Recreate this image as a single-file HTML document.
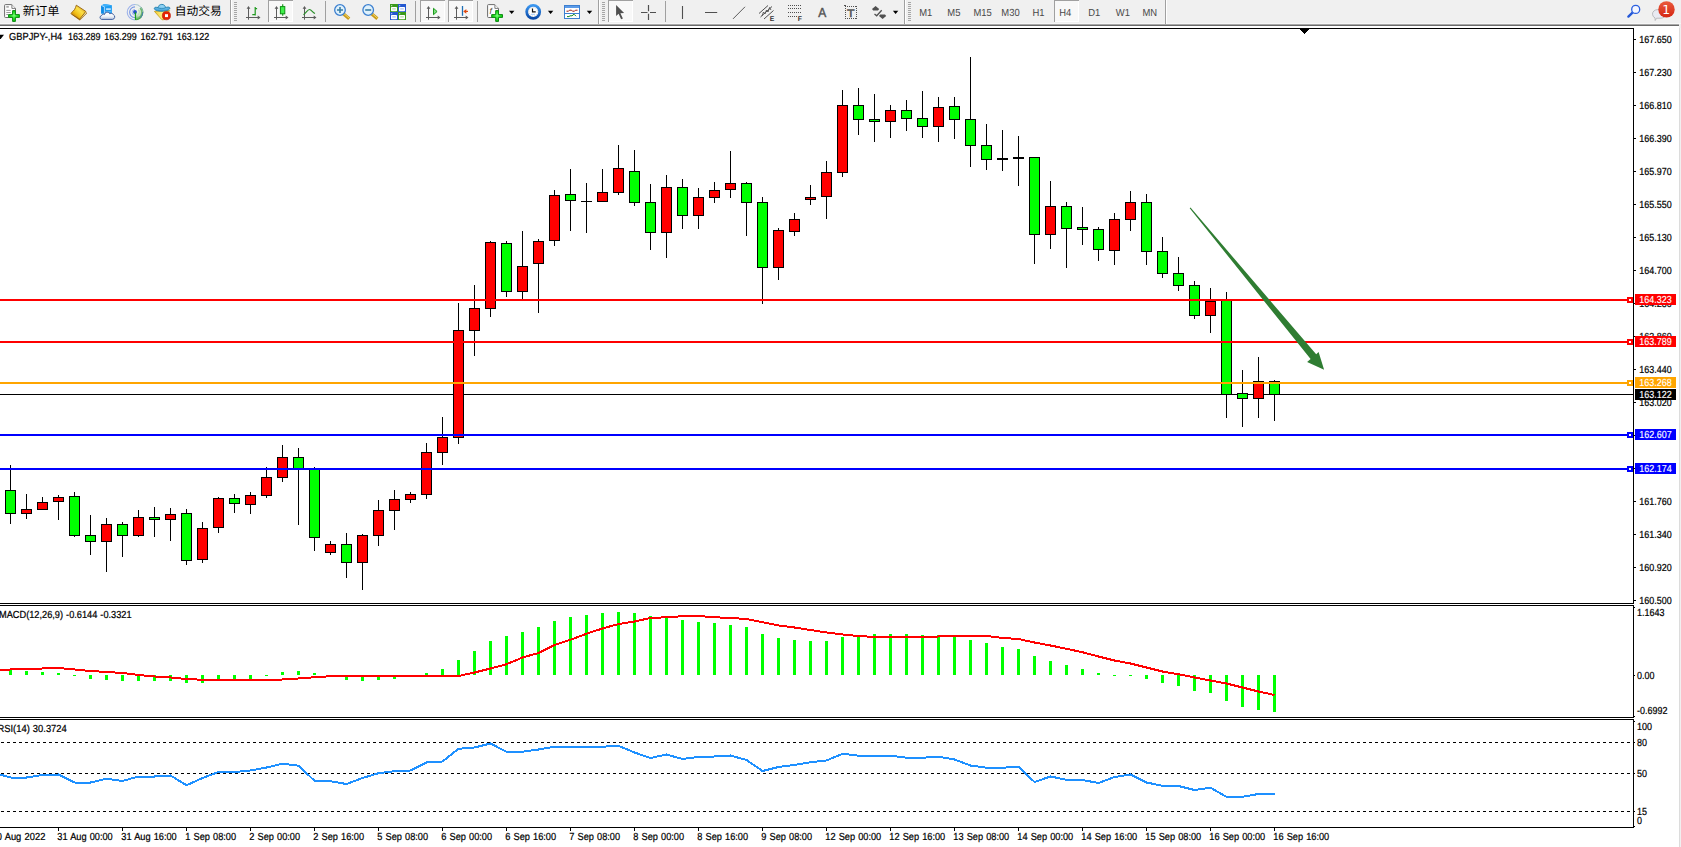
<!DOCTYPE html>
<html lang="zh"><head><meta charset="utf-8"><title>GBPJPY-,H4</title>
<style>html,body{margin:0;padding:0;background:#fff;overflow:hidden}body{width:1681px;height:847px;font-family:"Liberation Sans","Noto Sans CJK SC",sans-serif}svg{position:absolute;left:0;top:0;display:block}text{font-family:"Liberation Sans","Noto Sans CJK SC",sans-serif;text-rendering:geometricPrecision}.c{shape-rendering:crispEdges}.t9{font-size:10.2px;fill:#000;stroke:#000;stroke-width:.22px}</style></head><body>
<svg width="1681" height="847" viewBox="0 0 1681 847">
<rect width="1681" height="847" fill="#fff"/>
<g class="c">
<rect x="0" y="394" width="1633" height="1" fill="#000"/>
<rect x="10" y="465" width="1" height="59" fill="#000"/>
<rect x="5" y="490" width="11" height="24" fill="#000"/>
<rect x="6" y="491" width="9" height="22" fill="#00ff00"/>
<rect x="26" y="494" width="1" height="25" fill="#000"/>
<rect x="21" y="509" width="11" height="5" fill="#000"/>
<rect x="22" y="510" width="9" height="3" fill="#ff0000"/>
<rect x="42" y="497" width="1" height="13" fill="#000"/>
<rect x="37" y="502" width="11" height="8" fill="#000"/>
<rect x="38" y="503" width="9" height="6" fill="#ff0000"/>
<rect x="58" y="495" width="1" height="25" fill="#000"/>
<rect x="53" y="497" width="11" height="5" fill="#000"/>
<rect x="54" y="498" width="9" height="3" fill="#ff0000"/>
<rect x="74" y="492" width="1" height="45" fill="#000"/>
<rect x="69" y="496" width="11" height="40" fill="#000"/>
<rect x="70" y="497" width="9" height="38" fill="#00ff00"/>
<rect x="90" y="515" width="1" height="40" fill="#000"/>
<rect x="85" y="535" width="11" height="7" fill="#000"/>
<rect x="86" y="536" width="9" height="5" fill="#00ff00"/>
<rect x="106" y="518" width="1" height="54" fill="#000"/>
<rect x="101" y="524" width="11" height="18" fill="#000"/>
<rect x="102" y="525" width="9" height="16" fill="#ff0000"/>
<rect x="122" y="522" width="1" height="35" fill="#000"/>
<rect x="117" y="524" width="11" height="12" fill="#000"/>
<rect x="118" y="525" width="9" height="10" fill="#00ff00"/>
<rect x="138" y="510" width="1" height="27" fill="#000"/>
<rect x="133" y="517" width="11" height="19" fill="#000"/>
<rect x="134" y="518" width="9" height="17" fill="#ff0000"/>
<rect x="154" y="507" width="1" height="30" fill="#000"/>
<rect x="149" y="517" width="11" height="3" fill="#000"/>
<rect x="150" y="518" width="9" height="1" fill="#00ff00"/>
<rect x="170" y="508" width="1" height="33" fill="#000"/>
<rect x="165" y="514" width="11" height="6" fill="#000"/>
<rect x="166" y="515" width="9" height="4" fill="#ff0000"/>
<rect x="186" y="509" width="1" height="56" fill="#000"/>
<rect x="181" y="513" width="11" height="48" fill="#000"/>
<rect x="182" y="514" width="9" height="46" fill="#00ff00"/>
<rect x="202" y="522" width="1" height="41" fill="#000"/>
<rect x="197" y="528" width="11" height="32" fill="#000"/>
<rect x="198" y="529" width="9" height="30" fill="#ff0000"/>
<rect x="218" y="497" width="1" height="36" fill="#000"/>
<rect x="213" y="498" width="11" height="30" fill="#000"/>
<rect x="214" y="499" width="9" height="28" fill="#ff0000"/>
<rect x="234" y="494" width="1" height="19" fill="#000"/>
<rect x="229" y="498" width="11" height="6" fill="#000"/>
<rect x="230" y="499" width="9" height="4" fill="#00ff00"/>
<rect x="250" y="492" width="1" height="22" fill="#000"/>
<rect x="245" y="495" width="11" height="10" fill="#000"/>
<rect x="246" y="496" width="9" height="8" fill="#ff0000"/>
<rect x="266" y="467" width="1" height="31" fill="#000"/>
<rect x="261" y="477" width="11" height="19" fill="#000"/>
<rect x="262" y="478" width="9" height="17" fill="#ff0000"/>
<rect x="282" y="445" width="1" height="37" fill="#000"/>
<rect x="277" y="457" width="11" height="21" fill="#000"/>
<rect x="278" y="458" width="9" height="19" fill="#ff0000"/>
<rect x="298" y="448" width="1" height="77" fill="#000"/>
<rect x="293" y="457" width="11" height="12" fill="#000"/>
<rect x="294" y="458" width="9" height="10" fill="#00ff00"/>
<rect x="314" y="467" width="1" height="84" fill="#000"/>
<rect x="309" y="468" width="11" height="70" fill="#000"/>
<rect x="310" y="469" width="9" height="68" fill="#00ff00"/>
<rect x="330" y="541" width="1" height="14" fill="#000"/>
<rect x="325" y="544" width="11" height="9" fill="#000"/>
<rect x="326" y="545" width="9" height="7" fill="#ff0000"/>
<rect x="346" y="533" width="1" height="45" fill="#000"/>
<rect x="341" y="544" width="11" height="19" fill="#000"/>
<rect x="342" y="545" width="9" height="17" fill="#00ff00"/>
<rect x="362" y="534" width="1" height="56" fill="#000"/>
<rect x="357" y="535" width="11" height="28" fill="#000"/>
<rect x="358" y="536" width="9" height="26" fill="#ff0000"/>
<rect x="378" y="500" width="1" height="46" fill="#000"/>
<rect x="373" y="510" width="11" height="26" fill="#000"/>
<rect x="374" y="511" width="9" height="24" fill="#ff0000"/>
<rect x="394" y="490" width="1" height="40" fill="#000"/>
<rect x="389" y="499" width="11" height="12" fill="#000"/>
<rect x="390" y="500" width="9" height="10" fill="#ff0000"/>
<rect x="410" y="492" width="1" height="11" fill="#000"/>
<rect x="405" y="494" width="11" height="6" fill="#000"/>
<rect x="406" y="495" width="9" height="4" fill="#ff0000"/>
<rect x="426" y="443" width="1" height="56" fill="#000"/>
<rect x="421" y="452" width="11" height="43" fill="#000"/>
<rect x="422" y="453" width="9" height="41" fill="#ff0000"/>
<rect x="442" y="417" width="1" height="48" fill="#000"/>
<rect x="437" y="437" width="11" height="16" fill="#000"/>
<rect x="438" y="438" width="9" height="14" fill="#ff0000"/>
<rect x="458" y="303" width="1" height="141" fill="#000"/>
<rect x="453" y="330" width="11" height="108" fill="#000"/>
<rect x="454" y="331" width="9" height="106" fill="#ff0000"/>
<rect x="474" y="285" width="1" height="71" fill="#000"/>
<rect x="469" y="308" width="11" height="23" fill="#000"/>
<rect x="470" y="309" width="9" height="21" fill="#ff0000"/>
<rect x="490" y="241" width="1" height="76" fill="#000"/>
<rect x="485" y="242" width="11" height="67" fill="#000"/>
<rect x="486" y="243" width="9" height="65" fill="#ff0000"/>
<rect x="506" y="241" width="1" height="56" fill="#000"/>
<rect x="501" y="243" width="11" height="49" fill="#000"/>
<rect x="502" y="244" width="9" height="47" fill="#00ff00"/>
<rect x="522" y="231" width="1" height="68" fill="#000"/>
<rect x="517" y="266" width="11" height="26" fill="#000"/>
<rect x="518" y="267" width="9" height="24" fill="#ff0000"/>
<rect x="538" y="239" width="1" height="74" fill="#000"/>
<rect x="533" y="241" width="11" height="23" fill="#000"/>
<rect x="534" y="242" width="9" height="21" fill="#ff0000"/>
<rect x="554" y="190" width="1" height="56" fill="#000"/>
<rect x="549" y="195" width="11" height="46" fill="#000"/>
<rect x="550" y="196" width="9" height="44" fill="#ff0000"/>
<rect x="570" y="169" width="1" height="62" fill="#000"/>
<rect x="565" y="194" width="11" height="7" fill="#000"/>
<rect x="566" y="195" width="9" height="5" fill="#00ff00"/>
<rect x="586" y="183" width="1" height="50" fill="#000"/>
<rect x="581" y="201" width="11" height="1" fill="#000"/>
<rect x="602" y="169" width="1" height="33" fill="#000"/>
<rect x="597" y="192" width="11" height="10" fill="#000"/>
<rect x="598" y="193" width="9" height="8" fill="#ff0000"/>
<rect x="618" y="145" width="1" height="50" fill="#000"/>
<rect x="613" y="168" width="11" height="25" fill="#000"/>
<rect x="614" y="169" width="9" height="23" fill="#ff0000"/>
<rect x="634" y="150" width="1" height="56" fill="#000"/>
<rect x="629" y="171" width="11" height="32" fill="#000"/>
<rect x="630" y="172" width="9" height="30" fill="#00ff00"/>
<rect x="650" y="184" width="1" height="66" fill="#000"/>
<rect x="645" y="202" width="11" height="31" fill="#000"/>
<rect x="646" y="203" width="9" height="29" fill="#00ff00"/>
<rect x="666" y="175" width="1" height="83" fill="#000"/>
<rect x="661" y="187" width="11" height="46" fill="#000"/>
<rect x="662" y="188" width="9" height="44" fill="#ff0000"/>
<rect x="682" y="179" width="1" height="50" fill="#000"/>
<rect x="677" y="187" width="11" height="29" fill="#000"/>
<rect x="678" y="188" width="9" height="27" fill="#00ff00"/>
<rect x="698" y="188" width="1" height="41" fill="#000"/>
<rect x="693" y="197" width="11" height="19" fill="#000"/>
<rect x="694" y="198" width="9" height="17" fill="#ff0000"/>
<rect x="714" y="182" width="1" height="21" fill="#000"/>
<rect x="709" y="190" width="11" height="8" fill="#000"/>
<rect x="710" y="191" width="9" height="6" fill="#ff0000"/>
<rect x="730" y="151" width="1" height="47" fill="#000"/>
<rect x="725" y="183" width="11" height="7" fill="#000"/>
<rect x="726" y="184" width="9" height="5" fill="#ff0000"/>
<rect x="746" y="182" width="1" height="54" fill="#000"/>
<rect x="741" y="183" width="11" height="20" fill="#000"/>
<rect x="742" y="184" width="9" height="18" fill="#00ff00"/>
<rect x="762" y="197" width="1" height="107" fill="#000"/>
<rect x="757" y="202" width="11" height="66" fill="#000"/>
<rect x="758" y="203" width="9" height="64" fill="#00ff00"/>
<rect x="778" y="228" width="1" height="52" fill="#000"/>
<rect x="773" y="230" width="11" height="38" fill="#000"/>
<rect x="774" y="231" width="9" height="36" fill="#ff0000"/>
<rect x="794" y="213" width="1" height="23" fill="#000"/>
<rect x="789" y="219" width="11" height="13" fill="#000"/>
<rect x="790" y="220" width="9" height="11" fill="#ff0000"/>
<rect x="810" y="185" width="1" height="20" fill="#000"/>
<rect x="805" y="197" width="11" height="3" fill="#000"/>
<rect x="806" y="198" width="9" height="1" fill="#ff0000"/>
<rect x="826" y="161" width="1" height="58" fill="#000"/>
<rect x="821" y="172" width="11" height="25" fill="#000"/>
<rect x="822" y="173" width="9" height="23" fill="#ff0000"/>
<rect x="842" y="90" width="1" height="87" fill="#000"/>
<rect x="837" y="105" width="11" height="68" fill="#000"/>
<rect x="838" y="106" width="9" height="66" fill="#ff0000"/>
<rect x="858" y="88" width="1" height="47" fill="#000"/>
<rect x="853" y="105" width="11" height="15" fill="#000"/>
<rect x="854" y="106" width="9" height="13" fill="#00ff00"/>
<rect x="874" y="94" width="1" height="48" fill="#000"/>
<rect x="869" y="119" width="11" height="3" fill="#000"/>
<rect x="870" y="120" width="9" height="1" fill="#00ff00"/>
<rect x="890" y="105" width="1" height="33" fill="#000"/>
<rect x="885" y="110" width="11" height="12" fill="#000"/>
<rect x="886" y="111" width="9" height="10" fill="#ff0000"/>
<rect x="906" y="100" width="1" height="31" fill="#000"/>
<rect x="901" y="110" width="11" height="9" fill="#000"/>
<rect x="902" y="111" width="9" height="7" fill="#00ff00"/>
<rect x="922" y="91" width="1" height="47" fill="#000"/>
<rect x="917" y="118" width="11" height="9" fill="#000"/>
<rect x="918" y="119" width="9" height="7" fill="#00ff00"/>
<rect x="938" y="97" width="1" height="45" fill="#000"/>
<rect x="933" y="107" width="11" height="20" fill="#000"/>
<rect x="934" y="108" width="9" height="18" fill="#ff0000"/>
<rect x="954" y="97" width="1" height="42" fill="#000"/>
<rect x="949" y="106" width="11" height="14" fill="#000"/>
<rect x="950" y="107" width="9" height="12" fill="#00ff00"/>
<rect x="970" y="57" width="1" height="110" fill="#000"/>
<rect x="965" y="119" width="11" height="27" fill="#000"/>
<rect x="966" y="120" width="9" height="25" fill="#00ff00"/>
<rect x="986" y="124" width="1" height="46" fill="#000"/>
<rect x="981" y="145" width="11" height="15" fill="#000"/>
<rect x="982" y="146" width="9" height="13" fill="#00ff00"/>
<rect x="1002" y="130" width="1" height="41" fill="#000"/>
<rect x="997" y="158" width="11" height="2" fill="#000"/>
<rect x="1018" y="136" width="1" height="50" fill="#000"/>
<rect x="1013" y="157" width="11" height="2" fill="#000"/>
<rect x="1034" y="157" width="1" height="107" fill="#000"/>
<rect x="1029" y="157" width="11" height="78" fill="#000"/>
<rect x="1030" y="158" width="9" height="76" fill="#00ff00"/>
<rect x="1050" y="181" width="1" height="68" fill="#000"/>
<rect x="1045" y="206" width="11" height="29" fill="#000"/>
<rect x="1046" y="207" width="9" height="27" fill="#ff0000"/>
<rect x="1066" y="202" width="1" height="66" fill="#000"/>
<rect x="1061" y="206" width="11" height="23" fill="#000"/>
<rect x="1062" y="207" width="9" height="21" fill="#00ff00"/>
<rect x="1082" y="207" width="1" height="38" fill="#000"/>
<rect x="1077" y="227" width="11" height="3" fill="#000"/>
<rect x="1078" y="228" width="9" height="1" fill="#00ff00"/>
<rect x="1098" y="227" width="1" height="34" fill="#000"/>
<rect x="1093" y="229" width="11" height="21" fill="#000"/>
<rect x="1094" y="230" width="9" height="19" fill="#00ff00"/>
<rect x="1114" y="213" width="1" height="52" fill="#000"/>
<rect x="1109" y="219" width="11" height="32" fill="#000"/>
<rect x="1110" y="220" width="9" height="30" fill="#ff0000"/>
<rect x="1130" y="191" width="1" height="40" fill="#000"/>
<rect x="1125" y="202" width="11" height="18" fill="#000"/>
<rect x="1126" y="203" width="9" height="16" fill="#ff0000"/>
<rect x="1146" y="194" width="1" height="71" fill="#000"/>
<rect x="1141" y="202" width="11" height="50" fill="#000"/>
<rect x="1142" y="203" width="9" height="48" fill="#00ff00"/>
<rect x="1162" y="237" width="1" height="41" fill="#000"/>
<rect x="1157" y="251" width="11" height="23" fill="#000"/>
<rect x="1158" y="252" width="9" height="21" fill="#00ff00"/>
<rect x="1178" y="257" width="1" height="34" fill="#000"/>
<rect x="1173" y="273" width="11" height="13" fill="#000"/>
<rect x="1174" y="274" width="9" height="11" fill="#00ff00"/>
<rect x="1194" y="281" width="1" height="38" fill="#000"/>
<rect x="1189" y="285" width="11" height="31" fill="#000"/>
<rect x="1190" y="286" width="9" height="29" fill="#00ff00"/>
<rect x="1210" y="288" width="1" height="45" fill="#000"/>
<rect x="1205" y="301" width="11" height="15" fill="#000"/>
<rect x="1206" y="302" width="9" height="13" fill="#ff0000"/>
<rect x="1226" y="292" width="1" height="126" fill="#000"/>
<rect x="1221" y="300" width="11" height="95" fill="#000"/>
<rect x="1222" y="301" width="9" height="93" fill="#00ff00"/>
<rect x="1242" y="370" width="1" height="57" fill="#000"/>
<rect x="1237" y="393" width="11" height="6" fill="#000"/>
<rect x="1238" y="394" width="9" height="4" fill="#00ff00"/>
<rect x="1258" y="357" width="1" height="61" fill="#000"/>
<rect x="1253" y="381" width="11" height="18" fill="#000"/>
<rect x="1254" y="382" width="9" height="16" fill="#ff0000"/>
<rect x="1274" y="380" width="1" height="41" fill="#000"/>
<rect x="1269" y="381" width="11" height="14" fill="#000"/>
<rect x="1270" y="382" width="9" height="12" fill="#00ff00"/>
<rect x="0" y="299" width="1633" height="2" fill="#ff0000"/>
<rect x="0" y="341" width="1633" height="2" fill="#ff0000"/>
<rect x="0" y="382" width="1633" height="2" fill="#ffa500"/>
<rect x="0" y="434" width="1633" height="2" fill="#0000ff"/>
<rect x="0" y="468" width="1633" height="2" fill="#0000ff"/>
</g>
<polygon points="1189.7,208.300 1190.500,207.600 1316.2,354.3 1318.6,352.1 1324.1,369.7 1307.1,362 1310.6,359.1" fill="#2f7d32"/>
<g class="c">
<rect x="9" y="670" width="3" height="5" fill="#00ff00"/>
<rect x="25" y="671" width="3" height="4" fill="#00ff00"/>
<rect x="41" y="672" width="3" height="3" fill="#00ff00"/>
<rect x="57" y="673" width="3" height="2" fill="#00ff00"/>
<rect x="73" y="675" width="3" height="1" fill="#00ff00"/>
<rect x="89" y="675" width="3" height="4" fill="#00ff00"/>
<rect x="105" y="675" width="3" height="5" fill="#00ff00"/>
<rect x="121" y="675" width="3" height="6" fill="#00ff00"/>
<rect x="137" y="675" width="3" height="6" fill="#00ff00"/>
<rect x="153" y="675" width="3" height="6" fill="#00ff00"/>
<rect x="169" y="675" width="3" height="6" fill="#00ff00"/>
<rect x="185" y="675" width="3" height="8" fill="#00ff00"/>
<rect x="201" y="675" width="3" height="8" fill="#00ff00"/>
<rect x="217" y="675" width="3" height="5" fill="#00ff00"/>
<rect x="233" y="675" width="3" height="5" fill="#00ff00"/>
<rect x="249" y="675" width="3" height="5" fill="#00ff00"/>
<rect x="265" y="675" width="3" height="1" fill="#00ff00"/>
<rect x="281" y="672" width="3" height="3" fill="#00ff00"/>
<rect x="297" y="671" width="3" height="4" fill="#00ff00"/>
<rect x="313" y="673" width="3" height="2" fill="#00ff00"/>
<rect x="329" y="675" width="3" height="1" fill="#00ff00"/>
<rect x="345" y="675" width="3" height="5" fill="#00ff00"/>
<rect x="361" y="675" width="3" height="6" fill="#00ff00"/>
<rect x="377" y="675" width="3" height="5" fill="#00ff00"/>
<rect x="393" y="675" width="3" height="4" fill="#00ff00"/>
<rect x="409" y="675" width="3" height="2" fill="#00ff00"/>
<rect x="425" y="673" width="3" height="2" fill="#00ff00"/>
<rect x="441" y="669" width="3" height="6" fill="#00ff00"/>
<rect x="457" y="660" width="3" height="15" fill="#00ff00"/>
<rect x="473" y="651" width="3" height="24" fill="#00ff00"/>
<rect x="489" y="641" width="3" height="34" fill="#00ff00"/>
<rect x="505" y="636" width="3" height="39" fill="#00ff00"/>
<rect x="521" y="632" width="3" height="43" fill="#00ff00"/>
<rect x="537" y="627" width="3" height="48" fill="#00ff00"/>
<rect x="553" y="621" width="3" height="54" fill="#00ff00"/>
<rect x="569" y="617" width="3" height="58" fill="#00ff00"/>
<rect x="585" y="615" width="3" height="60" fill="#00ff00"/>
<rect x="601" y="613" width="3" height="62" fill="#00ff00"/>
<rect x="617" y="612" width="3" height="63" fill="#00ff00"/>
<rect x="633" y="613" width="3" height="62" fill="#00ff00"/>
<rect x="649" y="616" width="3" height="59" fill="#00ff00"/>
<rect x="665" y="618" width="3" height="57" fill="#00ff00"/>
<rect x="681" y="620" width="3" height="55" fill="#00ff00"/>
<rect x="697" y="622" width="3" height="53" fill="#00ff00"/>
<rect x="713" y="623" width="3" height="52" fill="#00ff00"/>
<rect x="729" y="625" width="3" height="50" fill="#00ff00"/>
<rect x="745" y="627" width="3" height="48" fill="#00ff00"/>
<rect x="761" y="634" width="3" height="41" fill="#00ff00"/>
<rect x="777" y="638" width="3" height="37" fill="#00ff00"/>
<rect x="793" y="640" width="3" height="35" fill="#00ff00"/>
<rect x="809" y="641" width="3" height="34" fill="#00ff00"/>
<rect x="825" y="641" width="3" height="34" fill="#00ff00"/>
<rect x="841" y="637" width="3" height="38" fill="#00ff00"/>
<rect x="857" y="635" width="3" height="40" fill="#00ff00"/>
<rect x="873" y="634" width="3" height="41" fill="#00ff00"/>
<rect x="889" y="634" width="3" height="41" fill="#00ff00"/>
<rect x="905" y="634" width="3" height="41" fill="#00ff00"/>
<rect x="921" y="635" width="3" height="40" fill="#00ff00"/>
<rect x="937" y="635" width="3" height="40" fill="#00ff00"/>
<rect x="953" y="636" width="3" height="39" fill="#00ff00"/>
<rect x="969" y="640" width="3" height="35" fill="#00ff00"/>
<rect x="985" y="643" width="3" height="32" fill="#00ff00"/>
<rect x="1001" y="647" width="3" height="28" fill="#00ff00"/>
<rect x="1017" y="649" width="3" height="26" fill="#00ff00"/>
<rect x="1033" y="656" width="3" height="19" fill="#00ff00"/>
<rect x="1049" y="661" width="3" height="14" fill="#00ff00"/>
<rect x="1065" y="665" width="3" height="10" fill="#00ff00"/>
<rect x="1081" y="669" width="3" height="6" fill="#00ff00"/>
<rect x="1097" y="673" width="3" height="2" fill="#00ff00"/>
<rect x="1113" y="675" width="3" height="1" fill="#00ff00"/>
<rect x="1129" y="675" width="3" height="1" fill="#00ff00"/>
<rect x="1145" y="675" width="3" height="4" fill="#00ff00"/>
<rect x="1161" y="675" width="3" height="8" fill="#00ff00"/>
<rect x="1177" y="675" width="3" height="11" fill="#00ff00"/>
<rect x="1193" y="675" width="3" height="16" fill="#00ff00"/>
<rect x="1209" y="675" width="3" height="18" fill="#00ff00"/>
<rect x="1225" y="675" width="3" height="26" fill="#00ff00"/>
<rect x="1241" y="675" width="3" height="32" fill="#00ff00"/>
<rect x="1257" y="675" width="3" height="35" fill="#00ff00"/>
<rect x="1273" y="675" width="3" height="37" fill="#00ff00"/>
</g>
<polyline points="0,670 10.5,669.50 26.5,669.00 42.5,668.50 58.5,668.00 74.5,669.50 90.5,671.00 106.5,672.00 122.5,673.00 138.5,675.00 154.5,676.50 170.5,677.50 186.5,679.00 202.5,679.75 218.5,679.75 234.5,679.75 250.5,679.75 266.5,679.75 282.5,679.50 298.5,678.50 314.5,677.25 330.5,676.25 346.5,676.00 362.5,676.00 378.5,676.00 394.5,676.00 410.5,676.00 426.5,676.00 442.5,676.00 458.5,676.00 474.5,672.50 490.5,668.50 506.5,664.25 522.5,657.50 538.5,653.00 554.5,645.00 570.5,639.75 586.5,633.75 602.5,628.50 618.5,624.00 634.5,621.50 650.5,618.00 666.5,617.25 682.5,616.25 698.5,616.00 714.5,617.25 730.5,618.00 746.5,619.00 762.5,622.25 778.5,625.50 794.5,627.50 810.5,630.00 826.5,632.50 842.5,634.50 858.5,636.00 874.5,637.00 890.5,637.00 906.5,637.00 922.5,637.00 938.5,636.50 954.5,636.00 970.5,636.00 986.5,636.00 1002.5,638.00 1018.5,639.00 1034.5,642.50 1050.5,645.50 1066.5,648.75 1082.5,652.25 1098.5,656.50 1114.5,660.50 1130.5,663.50 1146.5,667.50 1162.5,671.50 1178.5,674.25 1194.5,677.50 1210.5,680.50 1226.5,683.50 1242.5,687.50 1258.5,691.50 1274.5,695.00" fill="none" stroke="#ff0000" stroke-width="2" stroke-linejoin="round" shape-rendering="crispEdges"/>
<g class="c">
<line x1="1" y1="742.5" x2="1631" y2="742.5" stroke="#000" stroke-width="1" stroke-dasharray="3 3"/>
<line x1="1" y1="773.5" x2="1631" y2="773.5" stroke="#000" stroke-width="1" stroke-dasharray="3 3"/>
<line x1="1" y1="811.5" x2="1631" y2="811.5" stroke="#000" stroke-width="1" stroke-dasharray="3 3"/>
</g>
<polyline points="0,774.5 10.5,777.50 26.5,777.50 42.5,775.00 58.5,774.50 74.5,782.50 90.5,782.50 106.5,778.75 122.5,781.00 138.5,776.50 154.5,776.50 170.5,775.50 186.5,785.25 202.5,778.00 218.5,772.00 234.5,772.00 250.5,770.50 266.5,767.50 282.5,763.75 298.5,765.75 314.5,780.75 330.5,781.25 346.5,784.00 362.5,778.00 378.5,773.25 394.5,771.25 410.5,770.50 426.5,762.50 442.5,761.50 458.5,748.75 474.5,747.50 490.5,743.50 506.5,751.75 522.5,751.75 538.5,749.50 554.5,746.75 570.5,746.75 586.5,746.75 602.5,746.75 618.5,745.75 634.5,752.50 650.5,758.00 666.5,754.50 682.5,759.00 698.5,757.00 714.5,756.50 730.5,755.50 746.5,760.00 762.5,771.00 778.5,767.00 794.5,765.00 810.5,762.25 826.5,760.50 842.5,753.75 858.5,755.75 874.5,755.75 890.5,755.75 906.5,757.75 922.5,757.75 938.5,756.75 954.5,759.50 970.5,765.50 986.5,767.75 1002.5,767.75 1018.5,766.75 1034.5,782.00 1050.5,776.50 1066.5,779.75 1082.5,780.00 1098.5,783.00 1114.5,777.00 1130.5,774.50 1146.5,782.50 1162.5,785.75 1178.5,786.00 1194.5,790.00 1210.5,787.70 1226.5,796.80 1242.5,796.80 1258.5,794.00 1274.5,794.00" fill="none" stroke="#1e90ff" stroke-width="2" stroke-linejoin="round" shape-rendering="crispEdges"/>
<g class="c">
<rect x="0" y="28" width="1634" height="1" fill="#000"/>
<rect x="0" y="603" width="1634" height="1" fill="#000"/>
<rect x="0" y="605" width="1634" height="1" fill="#000"/>
<rect x="0" y="717" width="1634" height="1" fill="#000"/>
<rect x="0" y="719" width="1634" height="1" fill="#000"/>
<rect x="0" y="827" width="1634" height="1" fill="#000"/>
<rect x="1633" y="28" width="1" height="576" fill="#000"/>
<rect x="1633" y="605" width="1" height="113" fill="#000"/>
<rect x="1633" y="719" width="1" height="109" fill="#000"/>
<rect x="1634" y="607" width="1" height="1" fill="#000"/>
<rect x="1634" y="675" width="1" height="1" fill="#000"/>
<rect x="1634" y="716" width="1" height="1" fill="#000"/>
<rect x="1634" y="721" width="1" height="1" fill="#000"/>
<rect x="1634" y="742" width="1" height="1" fill="#000"/>
<rect x="1634" y="773" width="1" height="1" fill="#000"/>
<rect x="1634" y="811" width="1" height="1" fill="#000"/>
<rect x="1634" y="826" width="1" height="1" fill="#000"/>
<rect x="1679" y="26" width="2" height="821" fill="#f0f0f0"/>
<rect x="1679" y="26" width="1" height="821" fill="#dcdcdc"/>
<rect x="1634" y="39" width="2" height="1" fill="#000"/>
<rect x="1634" y="72" width="2" height="1" fill="#000"/>
<rect x="1634" y="105" width="2" height="1" fill="#000"/>
<rect x="1634" y="138" width="2" height="1" fill="#000"/>
<rect x="1634" y="171" width="2" height="1" fill="#000"/>
<rect x="1634" y="204" width="2" height="1" fill="#000"/>
<rect x="1634" y="237" width="2" height="1" fill="#000"/>
<rect x="1634" y="270" width="2" height="1" fill="#000"/>
<rect x="1634" y="303" width="2" height="1" fill="#000"/>
<rect x="1634" y="336" width="2" height="1" fill="#000"/>
<rect x="1634" y="369" width="2" height="1" fill="#000"/>
<rect x="1634" y="402" width="2" height="1" fill="#000"/>
<rect x="1634" y="435" width="2" height="1" fill="#000"/>
<rect x="1634" y="468" width="2" height="1" fill="#000"/>
<rect x="1634" y="501" width="2" height="1" fill="#000"/>
<rect x="1634" y="534" width="2" height="1" fill="#000"/>
<rect x="1634" y="567" width="2" height="1" fill="#000"/>
<rect x="1634" y="600" width="2" height="1" fill="#000"/>
<rect x="58" y="828" width="1" height="3" fill="#000"/>
<rect x="122" y="828" width="1" height="3" fill="#000"/>
<rect x="186" y="828" width="1" height="3" fill="#000"/>
<rect x="250" y="828" width="1" height="3" fill="#000"/>
<rect x="314" y="828" width="1" height="3" fill="#000"/>
<rect x="378" y="828" width="1" height="3" fill="#000"/>
<rect x="442" y="828" width="1" height="3" fill="#000"/>
<rect x="506" y="828" width="1" height="3" fill="#000"/>
<rect x="570" y="828" width="1" height="3" fill="#000"/>
<rect x="634" y="828" width="1" height="3" fill="#000"/>
<rect x="698" y="828" width="1" height="3" fill="#000"/>
<rect x="762" y="828" width="1" height="3" fill="#000"/>
<rect x="826" y="828" width="1" height="3" fill="#000"/>
<rect x="890" y="828" width="1" height="3" fill="#000"/>
<rect x="954" y="828" width="1" height="3" fill="#000"/>
<rect x="1018" y="828" width="1" height="3" fill="#000"/>
<rect x="1082" y="828" width="1" height="3" fill="#000"/>
<rect x="1146" y="828" width="1" height="3" fill="#000"/>
<rect x="1210" y="828" width="1" height="3" fill="#000"/>
<rect x="1274" y="828" width="1" height="3" fill="#000"/>
<polygon points="1299,29 1309,29 1304,34" fill="#000"/>
</g><polygon points="0,34.800 4,34.800 0.700,39 0,39" fill="#000"/><g class="c">
</g>
<text class="t9" transform="translate(1639.3 43) scale(.879 1)">167.650</text>
<text class="t9" transform="translate(1639.3 76) scale(.879 1)">167.230</text>
<text class="t9" transform="translate(1639.3 109) scale(.879 1)">166.810</text>
<text class="t9" transform="translate(1639.3 142) scale(.879 1)">166.390</text>
<text class="t9" transform="translate(1639.3 175) scale(.879 1)">165.970</text>
<text class="t9" transform="translate(1639.3 208) scale(.879 1)">165.550</text>
<text class="t9" transform="translate(1639.3 241) scale(.879 1)">165.130</text>
<text class="t9" transform="translate(1639.3 274) scale(.879 1)">164.700</text>
<text class="t9" transform="translate(1639.3 307) scale(.879 1)">164.280</text>
<text class="t9" transform="translate(1639.3 340) scale(.879 1)">163.860</text>
<text class="t9" transform="translate(1639.3 373) scale(.879 1)">163.440</text>
<text class="t9" transform="translate(1639.3 406) scale(.879 1)">163.020</text>
<text class="t9" transform="translate(1639.3 439) scale(.879 1)">162.600</text>
<text class="t9" transform="translate(1639.3 472) scale(.879 1)">162.180</text>
<text class="t9" transform="translate(1639.3 505) scale(.879 1)">161.760</text>
<text class="t9" transform="translate(1639.3 538) scale(.879 1)">161.340</text>
<text class="t9" transform="translate(1639.3 571) scale(.879 1)">160.920</text>
<text class="t9" transform="translate(1639.3 604) scale(.879 1)">160.500</text>
<g class="c">
<rect x="1627" y="297" width="6" height="6" fill="#ff0000"/><rect x="1629" y="299" width="2" height="2" fill="#fff"/>
<rect x="1635" y="294" width="41" height="11" fill="#ff0000"/></g>
<text class="t9" transform="translate(1639.3 303) scale(.879 1)" style="fill:#fff;stroke:#fff;stroke-width:.15px">164.323</text>
<g class="c">
<rect x="1627" y="339" width="6" height="6" fill="#ff0000"/><rect x="1629" y="341" width="2" height="2" fill="#fff"/>
<rect x="1635" y="336" width="41" height="11" fill="#ff0000"/></g>
<text class="t9" transform="translate(1639.3 345) scale(.879 1)" style="fill:#fff;stroke:#fff;stroke-width:.15px">163.789</text>
<g class="c">
<rect x="1627" y="380" width="6" height="6" fill="#ffa500"/><rect x="1629" y="382" width="2" height="2" fill="#fff"/>
<rect x="1635" y="377" width="41" height="11" fill="#ffa500"/></g>
<text class="t9" transform="translate(1639.3 386) scale(.879 1)" style="fill:#fff;stroke:#fff;stroke-width:.15px">163.268</text>
<g class="c">
<rect x="1635" y="389" width="41" height="11" fill="#000"/></g>
<text class="t9" transform="translate(1639.3 398) scale(.879 1)" style="fill:#fff;stroke:#fff;stroke-width:.15px">163.122</text>
<g class="c">
<rect x="1627" y="432" width="6" height="6" fill="#0000ff"/><rect x="1629" y="434" width="2" height="2" fill="#fff"/>
<rect x="1635" y="429" width="41" height="11" fill="#0000ff"/></g>
<text class="t9" transform="translate(1639.3 438) scale(.879 1)" style="fill:#fff;stroke:#fff;stroke-width:.15px">162.607</text>
<g class="c">
<rect x="1627" y="466" width="6" height="6" fill="#0000ff"/><rect x="1629" y="468" width="2" height="2" fill="#fff"/>
<rect x="1635" y="463" width="41" height="11" fill="#0000ff"/></g>
<text class="t9" transform="translate(1639.3 472) scale(.879 1)" style="fill:#fff;stroke:#fff;stroke-width:.15px">162.174</text>
<text class="t9" transform="translate(1637 616) scale(0.879 1)">1.1643</text>
<text class="t9" transform="translate(1637 678.8) scale(0.879 1)">0.00</text>
<text class="t9" transform="translate(1637 713.7) scale(0.879 1)">-0.6992</text>
<text class="t9" transform="translate(1637 730) scale(0.879 1)">100</text>
<text class="t9" transform="translate(1637 746) scale(0.879 1)">80</text>
<text class="t9" transform="translate(1637 777) scale(0.879 1)">50</text>
<text class="t9" transform="translate(1637 815) scale(0.879 1)">15</text>
<text class="t9" transform="translate(1637 823.9) scale(0.879 1)">0</text>
<text class="t9" transform="translate(9.1 40) scale(0.908 1)">GBPJPY-,H4</text>
<text class="t9" word-spacing="1.6" transform="translate(68 40) scale(0.879 1)">163.289 163.299 162.791 163.122</text>
<text class="t9" word-spacing="0.5" transform="translate(-1 618) scale(0.905 1)">MACD(12,26,9) -0.6144 -0.3321</text>
<text class="t9" word-spacing="0.5" transform="translate(-2.5 732) scale(0.92 1)">RSI(14) 30.3724</text>
<text class="t9" word-spacing="0.8" transform="translate(-8.5 840) scale(0.915 1)">30 Aug 2022</text>
<text class="t9" word-spacing="0.6" transform="translate(57.3 840) scale(0.905 1)">31 Aug 00:00</text>
<text class="t9" word-spacing="0.6" transform="translate(121.3 840) scale(0.905 1)">31 Aug 16:00</text>
<text class="t9" word-spacing="0.6" transform="translate(185.3 840) scale(0.905 1)">1 Sep 08:00</text>
<text class="t9" word-spacing="0.6" transform="translate(249.3 840) scale(0.905 1)">2 Sep 00:00</text>
<text class="t9" word-spacing="0.6" transform="translate(313.3 840) scale(0.905 1)">2 Sep 16:00</text>
<text class="t9" word-spacing="0.6" transform="translate(377.3 840) scale(0.905 1)">5 Sep 08:00</text>
<text class="t9" word-spacing="0.6" transform="translate(441.3 840) scale(0.905 1)">6 Sep 00:00</text>
<text class="t9" word-spacing="0.6" transform="translate(505.3 840) scale(0.905 1)">6 Sep 16:00</text>
<text class="t9" word-spacing="0.6" transform="translate(569.3 840) scale(0.905 1)">7 Sep 08:00</text>
<text class="t9" word-spacing="0.6" transform="translate(633.3 840) scale(0.905 1)">8 Sep 00:00</text>
<text class="t9" word-spacing="0.6" transform="translate(697.3 840) scale(0.905 1)">8 Sep 16:00</text>
<text class="t9" word-spacing="0.6" transform="translate(761.3 840) scale(0.905 1)">9 Sep 08:00</text>
<text class="t9" word-spacing="0.6" transform="translate(825.3 840) scale(0.905 1)">12 Sep 00:00</text>
<text class="t9" word-spacing="0.6" transform="translate(889.3 840) scale(0.905 1)">12 Sep 16:00</text>
<text class="t9" word-spacing="0.6" transform="translate(953.3 840) scale(0.905 1)">13 Sep 08:00</text>
<text class="t9" word-spacing="0.6" transform="translate(1017.3 840) scale(0.905 1)">14 Sep 00:00</text>
<text class="t9" word-spacing="0.6" transform="translate(1081.3 840) scale(0.905 1)">14 Sep 16:00</text>
<text class="t9" word-spacing="0.6" transform="translate(1145.3 840) scale(0.905 1)">15 Sep 08:00</text>
<text class="t9" word-spacing="0.6" transform="translate(1209.3 840) scale(0.905 1)">16 Sep 00:00</text>
<text class="t9" word-spacing="0.6" transform="translate(1273.3 840) scale(0.905 1)">16 Sep 16:00</text>
<g id="toolbar">
<g class="c">
<rect x="0" y="0" width="1681" height="23" fill="#f0f0f0"/>
<rect x="0" y="23" width="1681" height="1" fill="#f7f7f7"/>
<rect x="0" y="24" width="1680" height="1" fill="#a8a8a8"/>
<rect x="0" y="25" width="1680" height="1" fill="#6a6a6a"/>
<rect x="1679" y="24" width="2" height="4" fill="#ececec"/>
<rect x="230" y="0" width="1" height="24" fill="#a0a0a0"/><rect x="231" y="0" width="1" height="24" fill="#fff"/>
<rect x="598" y="0" width="1" height="24" fill="#a0a0a0"/><rect x="599" y="0" width="1" height="24" fill="#fff"/>
<rect x="904" y="0" width="1" height="24" fill="#a0a0a0"/><rect x="905" y="0" width="1" height="24" fill="#fff"/>
<rect x="1165" y="0" width="1" height="24" fill="#a0a0a0"/><rect x="1166" y="0" width="1" height="24" fill="#fff"/>
<rect x="325" y="1" width="1" height="21" fill="#a0a0a0"/>
<rect x="415" y="1" width="1" height="21" fill="#a0a0a0"/>
<rect x="477" y="1" width="1" height="21" fill="#a0a0a0"/>
<rect x="665" y="1" width="1" height="21" fill="#a0a0a0"/>
<rect x="234" y="2" width="3" height="1" fill="#a6a6a6"/>
<rect x="234" y="4" width="3" height="1" fill="#a6a6a6"/>
<rect x="234" y="6" width="3" height="1" fill="#a6a6a6"/>
<rect x="234" y="8" width="3" height="1" fill="#a6a6a6"/>
<rect x="234" y="10" width="3" height="1" fill="#a6a6a6"/>
<rect x="234" y="12" width="3" height="1" fill="#a6a6a6"/>
<rect x="234" y="14" width="3" height="1" fill="#a6a6a6"/>
<rect x="234" y="16" width="3" height="1" fill="#a6a6a6"/>
<rect x="234" y="18" width="3" height="1" fill="#a6a6a6"/>
<rect x="234" y="20" width="3" height="1" fill="#a6a6a6"/>
<rect x="602" y="2" width="3" height="1" fill="#a6a6a6"/>
<rect x="602" y="4" width="3" height="1" fill="#a6a6a6"/>
<rect x="602" y="6" width="3" height="1" fill="#a6a6a6"/>
<rect x="602" y="8" width="3" height="1" fill="#a6a6a6"/>
<rect x="602" y="10" width="3" height="1" fill="#a6a6a6"/>
<rect x="602" y="12" width="3" height="1" fill="#a6a6a6"/>
<rect x="602" y="14" width="3" height="1" fill="#a6a6a6"/>
<rect x="602" y="16" width="3" height="1" fill="#a6a6a6"/>
<rect x="602" y="18" width="3" height="1" fill="#a6a6a6"/>
<rect x="602" y="20" width="3" height="1" fill="#a6a6a6"/>
<rect x="908" y="2" width="3" height="1" fill="#a6a6a6"/>
<rect x="908" y="4" width="3" height="1" fill="#a6a6a6"/>
<rect x="908" y="6" width="3" height="1" fill="#a6a6a6"/>
<rect x="908" y="8" width="3" height="1" fill="#a6a6a6"/>
<rect x="908" y="10" width="3" height="1" fill="#a6a6a6"/>
<rect x="908" y="12" width="3" height="1" fill="#a6a6a6"/>
<rect x="908" y="14" width="3" height="1" fill="#a6a6a6"/>
<rect x="908" y="16" width="3" height="1" fill="#a6a6a6"/>
<rect x="908" y="18" width="3" height="1" fill="#a6a6a6"/>
<rect x="908" y="20" width="3" height="1" fill="#a6a6a6"/>
<rect x="268" y="0" width="25" height="22" fill="#f8f8f8"/>
<rect x="268" y="0" width="25" height="1" fill="#a0a0a0"/><rect x="268" y="0" width="1" height="22" fill="#a0a0a0"/>
<rect x="269" y="21" width="24" height="1" fill="#fff"/><rect x="292" y="1" width="1" height="21" fill="#fff"/>
<rect x="420" y="0" width="25" height="22" fill="#f8f8f8"/>
<rect x="420" y="0" width="25" height="1" fill="#a0a0a0"/><rect x="420" y="0" width="1" height="22" fill="#a0a0a0"/>
<rect x="421" y="21" width="24" height="1" fill="#fff"/><rect x="444" y="1" width="1" height="21" fill="#fff"/>
<rect x="448" y="0" width="25" height="22" fill="#f8f8f8"/>
<rect x="448" y="0" width="25" height="1" fill="#a0a0a0"/><rect x="448" y="0" width="1" height="22" fill="#a0a0a0"/>
<rect x="449" y="21" width="24" height="1" fill="#fff"/><rect x="472" y="1" width="1" height="21" fill="#fff"/>
<rect x="608" y="0" width="25" height="22" fill="#f8f8f8"/>
<rect x="608" y="0" width="25" height="1" fill="#a0a0a0"/><rect x="608" y="0" width="1" height="22" fill="#a0a0a0"/>
<rect x="609" y="21" width="24" height="1" fill="#fff"/><rect x="632" y="1" width="1" height="21" fill="#fff"/>
<rect x="1054" y="0" width="25" height="22" fill="#f8f8f8"/>
<rect x="1054" y="0" width="25" height="1" fill="#a0a0a0"/><rect x="1054" y="0" width="1" height="22" fill="#a0a0a0"/>
<rect x="1055" y="21" width="24" height="1" fill="#fff"/><rect x="1078" y="1" width="1" height="21" fill="#fff"/>
</g>
<defs><radialGradient id="pg" cx="0.500" cy="0.450" r="0.600"><stop offset="0" stop-color="#7dff7d"/><stop offset="0.500" stop-color="#22e022"/><stop offset="1" stop-color="#0bb40b"/></radialGradient></defs>
<path d="M5.4 4.6h6.300l3.800 3.800v8.300a0.800 0.800 0 0 1 -0.800 0.800h-9.300a0.800 0.800 0 0 1 -0.800-0.800v-11.300a0.800 0.800 0 0 1 0.800-0.800z" fill="#fdfdfd" stroke="#6c6c6c" stroke-width="1"/>
<path d="M11.9 4.8v3.600h3.600" fill="#fff" stroke="#6c6c6c" stroke-width="0.900"/>
<path d="M6.300 6.900h2.500" stroke="#8c8c8c" stroke-width="1.300"/><path d="M6.300 10.400h4.400M6.300 12.500h4.400M6.300 14.500h2" stroke="#8c8c8c" stroke-width="0.900" fill="none"/>
<path d="M12.6 10.6h2.800v4h4v2.800h-4v4h-2.800v-4h-4v-2.800h4z" fill="url(#pg)" stroke="#0d8a12" stroke-width="1" stroke-linejoin="round"/>
<text x="22.800" y="15" font-size="11.800" fill="#000" textLength="36.600" lengthAdjust="spacingAndGlyphs">新订单</text>
<defs><linearGradient id="bk" x1="0.100" y1="0.900" x2="0.850" y2="0.100"><stop offset="0" stop-color="#c07c08"/><stop offset="0.100" stop-color="#f4dc78"/><stop offset="0.200" stop-color="#d89810"/><stop offset="0.330" stop-color="#efbc14"/><stop offset="0.650" stop-color="#fce048"/><stop offset="1" stop-color="#d69a14"/></linearGradient></defs>
<path d="M71.200 14.200L79.800 20.400L87.100 13.300L85.800 11.400L79.700 19.100L71.600 13.600Z" fill="#9c6408"/>
<path d="M85.800 11.600L86.500 12.900L80 19.500L79.600 19Z" fill="#ece4b4"/>
<path d="M76.300 5.200L85.800 11.400L79.700 19.200L71.600 14.100C70.900 13.600 71 13 71.600 12.600C74.300 10.500 75.400 8.500 76.300 5.200Z" fill="url(#bk)" stroke="#94600a" stroke-width="0.900" stroke-linejoin="round"/>
<defs><linearGradient id="cl" x1="0" y1="0" x2="0" y2="1"><stop offset="0" stop-color="#ffffff"/><stop offset="0.550" stop-color="#f2f5fa"/><stop offset="1" stop-color="#b9c6de"/></linearGradient></defs>
<path d="M101.200 5.400L104.300 4L111.900 5.200V13.500H101.200Z" fill="#1f9df2"/>
<path d="M101.200 5.400L104.400 6.800V13.500H101.200Z" fill="#0d8ae6"/><path d="M101.200 5.400L104.300 4L111.900 5.200L104.400 6.800Z" fill="#3fb0fa"/>
<path d="M101.400 5.500L104.400 6.800V13" fill="none" stroke="#e6f5ff" stroke-width="0.700"/><path d="M106.100 9.100h4.700" stroke="#d4ecff" stroke-width="1.500"/><path d="M105.300 11.700h6" stroke="#8fd0ff" stroke-width="0.600"/>
<path d="M101.500 19.400H112.400A2.500 2.500 0 0 0 113.400 14.700A2.200 2.200 0 0 0 109.900 13.900A2.800 2.800 0 0 0 104.500 14.500A1.800 1.800 0 0 0 101.700 15.500A2 2 0 0 0 101.500 19.400Z" fill="url(#cl)" stroke="#3f5f9f" stroke-width="1" stroke-linejoin="round"/>
<g transform="translate(4.050 0.700) scale(.97)">
<defs><radialGradient id="sg" cx="135" cy="11.900" r="8.300" gradientUnits="userSpaceOnUse"><stop offset="0" stop-color="#ffffff" stop-opacity="0"/><stop offset="0.400" stop-color="#b8dcb0" stop-opacity="0.550"/><stop offset="1" stop-color="#2f9a2f" stop-opacity="0.950"/></radialGradient></defs>
<path d="M135.500 11.900L135.500 20.100A8.200 8.200 0 0 0 141.500 6.500Z" fill="url(#sg)"/>
<g fill="none"><path d="M135 3.900a8 8 0 0 0 0 16" stroke="#7f9ce8" stroke-width="1.100" opacity="0.750"/><path d="M135 6.400a5.500 5.500 0 0 0 0 11" stroke="#5f82e2" stroke-width="1.100" opacity="0.850"/><path d="M135 8.900a3 3 0 0 0 0 6" stroke="#9fb4ee" stroke-width="0.900"/>
<path d="M135 3.900a8 8 0 0 1 8 8" stroke="#9cc0c8" stroke-width="1.100" opacity="0.800"/><path d="M135 6.400a5.500 5.500 0 0 1 5.500 5.500a5.500 5.500 0 0 1 -2 4.200" stroke="#e4f2e4" stroke-width="1"/><path d="M135 8.900a3 3 0 0 1 3 3.900" stroke="#eef6ee" stroke-width="0.800"/><path d="M143 11.900a8 8 0 0 1 -2.300 5.600" stroke="#4a80b0" stroke-width="1.100"/></g>
<circle cx="135" cy="11.700" r="2" fill="#2450cc"/><path d="M135.500 12v7.900" stroke="#18a018" stroke-width="1.300"/>
</g>
<defs><linearGradient id="yf" x1="0" y1="0" x2="1" y2="0"><stop offset="0" stop-color="#f2c830"/><stop offset="0.500" stop-color="#fff080"/><stop offset="1" stop-color="#f0c428"/></linearGradient><radialGradient id="ht" cx="0.500" cy="0.250" r="0.700"><stop offset="0" stop-color="#9ad8f6"/><stop offset="1" stop-color="#3f9fd6"/></radialGradient></defs>
<path d="M154.400 11.400L162 19.800L164.500 19.600L169.600 10.500Z" fill="url(#yf)" stroke="#c49c14" stroke-width="0.800" stroke-linejoin="round"/>
<path d="M154.400 8C154.900 6.900 156.400 7.200 158.100 7.700C158.200 5.700 159.700 4.400 161.800 4.400S165.400 5.700 165.500 7.600C167.200 7 169.300 6.700 169.800 7.800C170.400 9.600 166.600 11.200 162 11.200S153.600 9.900 154.400 8Z" fill="url(#ht)" stroke="#1f7fae" stroke-width="0.900" stroke-linejoin="round"/>
<path d="M158.100 7.800C160 9 163.700 9 165.500 7.700" fill="none" stroke="#2a86b6" stroke-width="0.800"/>
<circle cx="166.400" cy="15.700" r="4.100" fill="#e42404" stroke="#b81a08" stroke-width="0.600"/><rect x="165" y="14.200" width="3" height="2.900" fill="#fff"/>
<text x="174.800" y="15" font-size="11.800" fill="#000" textLength="47" lengthAdjust="spacingAndGlyphs">自动交易</text>
<path d="M248.5 19.700V7M246 17.500H259" stroke="#5c5c5c" stroke-width="1" fill="none"/>
<path d="M248.5 6l-1.900 2.800h3.800zM260.5 17.500l-2.800-1.900v3.800z" fill="#5c5c5c"/>
<path d="M255.200 7v8.400M255.200 8.600h1.900M252.300 14.600h2.900" stroke="#1e9a1e" stroke-width="1.200" fill="none" stroke-linejoin="miter"/>
<path d="M276.5 19.700V7M274 17.500H287" stroke="#5c5c5c" stroke-width="1" fill="none"/>
<path d="M276.5 6l-1.900 2.800h3.800zM288.5 17.500l-2.800-1.900v3.800z" fill="#5c5c5c"/>
<path d="M282.700 4.300v11.500" stroke="#1e9a1e" stroke-width="1.200"/><rect x="280.400" y="6.600" width="4.400" height="7.200" fill="#3ff04a" stroke="#0f8f14" stroke-width="1"/>
<path d="M304.5 19.700V7M302 17.500H315" stroke="#5c5c5c" stroke-width="1" fill="none"/>
<path d="M304.5 6l-1.900 2.800h3.800zM316.5 17.500l-2.800-1.900v3.800z" fill="#5c5c5c"/>
<path d="M303.500 14.800c2.500-1.500 4-5.300 6-5.300s3 3 5.500 4" stroke="#2a8f2a" stroke-width="1.200" fill="none"/>
<path d="M343.6 14l5.600 4.800" stroke="#c99a1a" stroke-width="3.200"/><path d="M344 13.700l5.600 4.800" stroke="#f2d868" stroke-width="1"/>
<circle cx="340" cy="10" r="5.300" fill="#dff1fc" stroke="#3b7fd0" stroke-width="1.300"/>
<path d="M337 10h6M340 7v6" stroke="#3a7ea6" stroke-width="1.600"/>
<path d="M371.8 14l5.600 4.800" stroke="#c99a1a" stroke-width="3.200"/><path d="M372.2 13.700l5.600 4.800" stroke="#f2d868" stroke-width="1"/>
<circle cx="368.2" cy="10" r="5.300" fill="#dff1fc" stroke="#3b7fd0" stroke-width="1.300"/>
<path d="M365.2 10h6" stroke="#3a7ea6" stroke-width="1.600"/>
<rect x="390" y="4" width="8" height="8" fill="#3a9a1a"/><rect x="391" y="7" width="6" height="4.200" rx="0.600" fill="#fff"/>
<rect x="392.2" y="8.4" width="3.600" height="1" fill="#3a9a1a" opacity="0.450"/><rect x="391.2" y="5.2" width="1" height="1" fill="#fff" opacity="0.900"/>
<rect x="398" y="4" width="8" height="8" fill="#2458d0"/><rect x="399" y="7" width="6" height="4.200" rx="0.600" fill="#fff"/>
<rect x="400.2" y="8.4" width="3.600" height="1" fill="#2458d0" opacity="0.450"/><rect x="399.2" y="5.2" width="1" height="1" fill="#fff" opacity="0.900"/>
<rect x="390" y="12" width="8" height="8" fill="#2458d0"/><rect x="391" y="15" width="6" height="4.200" rx="0.600" fill="#fff"/>
<rect x="392.2" y="16.4" width="3.600" height="1" fill="#2458d0" opacity="0.450"/><rect x="391.2" y="13.2" width="1" height="1" fill="#fff" opacity="0.900"/>
<rect x="398" y="12" width="8" height="8" fill="#3a9a1a"/><rect x="399" y="15" width="6" height="4.200" rx="0.600" fill="#fff"/>
<rect x="400.2" y="16.4" width="3.600" height="1" fill="#3a9a1a" opacity="0.450"/><rect x="399.2" y="13.2" width="1" height="1" fill="#fff" opacity="0.900"/>
<path d="M428.5 19.700V7M426 17.500H439" stroke="#5c5c5c" stroke-width="1" fill="none"/>
<path d="M428.5 6l-1.900 2.800h3.800zM440.5 17.500l-2.800-1.900v3.800z" fill="#5c5c5c"/>
<path d="M433.500 8.300v6.400l3.600-3.200z" fill="#7ee07e" stroke="#1e9a1e" stroke-width="1"/>
<path d="M456.5 19.700V7M454 17.500H467" stroke="#5c5c5c" stroke-width="1" fill="none"/>
<path d="M456.5 6l-1.900 2.800h3.800zM468.5 17.500l-2.800-1.900v3.800z" fill="#5c5c5c"/>
<path d="M462.500 6v9.800" stroke="#1f6fb4" stroke-width="1.300"/><path d="M468 11.400h-4" stroke="#e04a10" stroke-width="1.200"/><path d="M463.300 11.400l3-2.300v4.600z" fill="#e04a10"/>
<path d="M488.4 4.6h6.300l3.800 3.800v8.300a0.800 0.800 0 0 1 -0.800 0.800h-9.300a0.800 0.800 0 0 1 -0.800-0.800v-11.300a0.800 0.800 0 0 1 0.800-0.800z" fill="#fdfdfd" stroke="#6c6c6c" stroke-width="1"/>
<path d="M494.9 4.8v3.600h3.600" fill="#fff" stroke="#6c6c6c" stroke-width="0.900"/>
<text x="489.400" y="13.500" font-size="8.500" font-style="italic" fill="#5a4a30">f</text>
<path d="M495.7 10.6h2.800v4h4v2.800h-4v4h-2.800v-4h-4v-2.800h4z" fill="url(#pg)" stroke="#0d8a12" stroke-width="1" stroke-linejoin="round"/>
<path d="M509 10.800h5.400l-2.700 3.200z" fill="#000"/>
<path d="M547.9 10.800h5.400l-2.700 3.200z" fill="#000"/>
<path d="M586.8 10.800h5.400l-2.700 3.200z" fill="#000"/>
<path d="M892.9 10.800h5.400l-2.700 3.200z" fill="#000"/>
<defs><linearGradient id="ck" x1="0" y1="0" x2="0" y2="1"><stop offset="0" stop-color="#3c97f0"/><stop offset="1" stop-color="#0a4aa8"/></linearGradient></defs>
<circle cx="533.200" cy="11.800" r="6.500" fill="#fff" stroke="url(#ck)" stroke-width="2.800"/>
<circle cx="533.200" cy="11.800" r="4.300" fill="none" stroke="#9a9a9a" stroke-width="0.700" stroke-dasharray="0.700 1.550"/>
<path d="M532.500 8.500v3.300h3.200" stroke="#111" stroke-width="1.200" fill="none"/><path d="M531 14.300h4" stroke="#7ab0f0" stroke-width="0.700"/>
<rect x="564.500" y="5.500" width="15" height="13" fill="#fff" stroke="#3d7fd0" stroke-width="1"/><rect x="565" y="6" width="14" height="2" fill="#5c9be8"/><path d="M565 13.500h14" stroke="#3d7fd0" stroke-width="1"/>
<path d="M566.500 11.200h2l1-1h2l1 1h2l1-1h2" stroke="#a01c10" stroke-width="1" fill="none"/><path d="M567 16.600h2l1-0.800h2l2-1.600l2 2" stroke="#168a20" stroke-width="1" fill="none"/>
<path d="M616.100 5v11l2.500-2.200l2.500 5.500l1.800-0.900l-2.500-5.200l3.700-0.300z" fill="#505050"/>
<path d="M641 12.500h6.500M650 12.500h6M648.500 5v6.300M648.500 13.800v6.200" stroke="#505050" stroke-width="1.200"/>
<path d="M682.500 6v13M705 12.500h12.200" stroke="#505050" stroke-width="1.100"/><path d="M733 18.900L745 6.800" stroke="#5c5c5c" stroke-width="1"/>
<path d="M759 13.500l9-8M760.500 17l11.500-10.500M764 19l9.500-8.500" stroke="#505050" stroke-width="1"/><path d="M762 16l1.500-4l1.500 2l1.500-4l1.500 2l1.500-4.500l1.500 2.500" stroke="#505050" stroke-width="0.900" fill="none"/>
<text x="769.800" y="20.800" font-size="6.800" font-weight="bold" fill="#333">E</text>
<g class="c" fill="#505050">
<rect x="788" y="5" width="1" height="1"/>
<rect x="790" y="5" width="1" height="1"/>
<rect x="792" y="5" width="1" height="1"/>
<rect x="794" y="5" width="1" height="1"/>
<rect x="796" y="5" width="1" height="1"/>
<rect x="798" y="5" width="1" height="1"/>
<rect x="800" y="5" width="1" height="1"/>
<rect x="788" y="8" width="1" height="1"/>
<rect x="790" y="8" width="1" height="1"/>
<rect x="792" y="8" width="1" height="1"/>
<rect x="794" y="8" width="1" height="1"/>
<rect x="796" y="8" width="1" height="1"/>
<rect x="798" y="8" width="1" height="1"/>
<rect x="800" y="8" width="1" height="1"/>
<rect x="788" y="12" width="1" height="1"/>
<rect x="790" y="12" width="1" height="1"/>
<rect x="792" y="12" width="1" height="1"/>
<rect x="794" y="12" width="1" height="1"/>
<rect x="796" y="12" width="1" height="1"/>
<rect x="798" y="12" width="1" height="1"/>
<rect x="800" y="12" width="1" height="1"/>
<rect x="788" y="16" width="1" height="1"/>
<rect x="790" y="16" width="1" height="1"/>
<rect x="792" y="16" width="1" height="1"/>
<rect x="794" y="16" width="1" height="1"/>
<rect x="796" y="16" width="1" height="1"/>
</g>
<text x="797.800" y="20.800" font-size="6.800" font-weight="bold" fill="#333">F</text>
<text x="818.300" y="17.100" font-size="13" font-weight="normal" fill="#555" stroke="#555" stroke-width="0.450" textLength="8" lengthAdjust="spacingAndGlyphs">A</text>
<g class="c" fill="#505050">
<rect x="845" y="6" width="1" height="1"/><rect x="845" y="18" width="1" height="1"/>
<rect x="847" y="6" width="1" height="1"/><rect x="847" y="18" width="1" height="1"/>
<rect x="849" y="6" width="1" height="1"/><rect x="849" y="18" width="1" height="1"/>
<rect x="851" y="6" width="1" height="1"/><rect x="851" y="18" width="1" height="1"/>
<rect x="853" y="6" width="1" height="1"/><rect x="853" y="18" width="1" height="1"/>
<rect x="855" y="6" width="1" height="1"/><rect x="855" y="18" width="1" height="1"/>
<rect x="845" y="8" width="1" height="1"/><rect x="856" y="8" width="1" height="1"/>
<rect x="845" y="10" width="1" height="1"/><rect x="856" y="10" width="1" height="1"/>
<rect x="845" y="12" width="1" height="1"/><rect x="856" y="12" width="1" height="1"/>
<rect x="845" y="14" width="1" height="1"/><rect x="856" y="14" width="1" height="1"/>
<rect x="845" y="16" width="1" height="1"/><rect x="856" y="16" width="1" height="1"/>
<rect x="844" y="5" width="2" height="1"/><rect x="856" y="6" width="1" height="1"/><rect x="856" y="18" width="1" height="1"/></g>
<text x="847" y="16.800" font-size="10.800" font-weight="normal" fill="#555" stroke="#555" stroke-width="0.500" textLength="7.600" lengthAdjust="spacingAndGlyphs">T</text>
<path d="M872 9l3.600-3l3.600 3l-1.200 1.500h-4.800zM879 16l3.600 3l3.600-3l-1.200-1.500h-4.800z" fill="#505050"/><path d="M874.500 14l2.200 1.800l5-5.500" stroke="#505050" stroke-width="1.300" fill="none"/>
<text transform="translate(919.2 16) scale(.915 1)" font-size="10.300" fill="#484848">M1</text>
<text transform="translate(947.3 16) scale(.915 1)" font-size="10.300" fill="#484848">M5</text>
<text transform="translate(973.4 16) scale(.915 1)" font-size="10.300" fill="#484848">M15</text>
<text transform="translate(1001.3 16) scale(.915 1)" font-size="10.300" fill="#484848">M30</text>
<text transform="translate(1032.5 16) scale(.915 1)" font-size="10.300" fill="#484848">H1</text>
<text transform="translate(1059.2 16) scale(.915 1)" font-size="10.300" fill="#484848">H4</text>
<text transform="translate(1088.3 16) scale(.915 1)" font-size="10.300" fill="#484848">D1</text>
<text transform="translate(1115.8 16) scale(.915 1)" font-size="10.300" fill="#484848">W1</text>
<text transform="translate(1142.5 16) scale(.915 1)" font-size="10.300" fill="#484848">MN</text>
<path d="M1633 12.200l-4.600 4.400" stroke="#2458d8" stroke-width="2.400" stroke-linecap="round"/><circle cx="1635.700" cy="9.400" r="4" fill="#f4f6ff" stroke="#2a5fe0" stroke-width="1.300"/>
<path d="M1652.500 14.200a5.300 4.300 0 0 1 5.300-4.600h3a5.300 4.300 0 0 1 0 8.600h-4.300l-1.300 2.300l-0.200-2.600a5 4.300 0 0 1 -2.500-3.700z" fill="#e9eaf2" stroke="#b4b4b8" stroke-width="0.900"/>
<defs><linearGradient id="bd" x1="0" y1="0" x2="0" y2="1"><stop offset="0" stop-color="#ea5a3c"/><stop offset="1" stop-color="#d42512"/></linearGradient></defs>
<circle cx="1666.500" cy="9.400" r="8.200" fill="url(#bd)"/>
<text x="1662.300" y="14.200" font-size="12.400" fill="#fff" style="font-family:'DejaVu Sans','Liberation Sans',sans-serif">1</text>
</g>
</svg></body></html>
